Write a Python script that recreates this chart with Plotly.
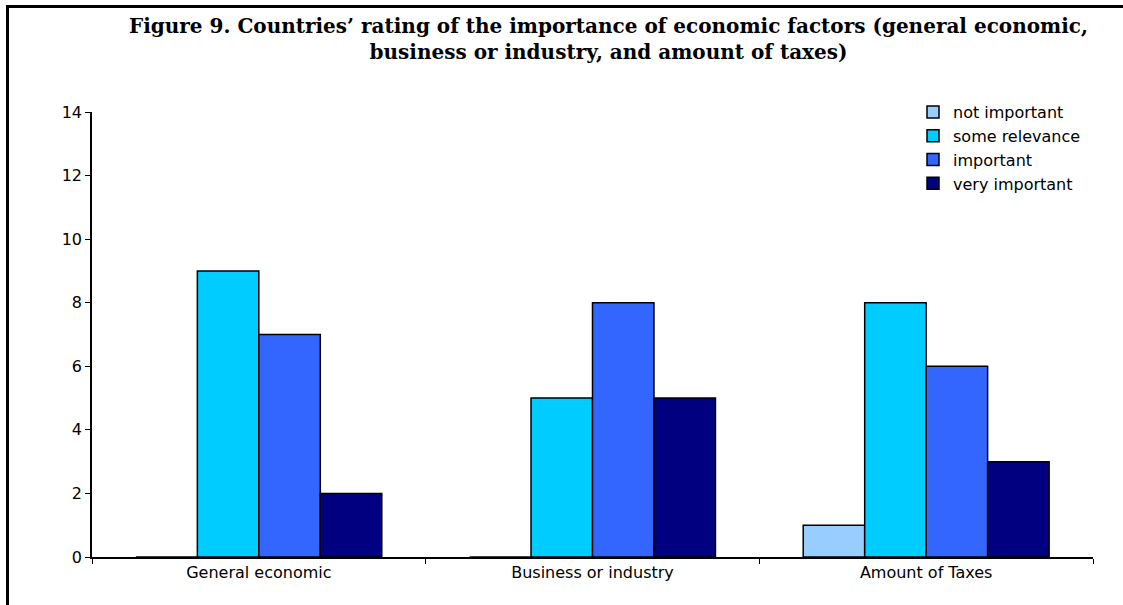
import plotly.graph_objects as go

categories = ["General economic", "Business or industry", "Amount of Taxes"]
series_names = ["not important", "some relevance", "important", "very important"]
not_important = [0, 0, 1]
some_relevance = [9, 5, 8]
important = [7, 8, 6]
very_important = [2, 5, 3]
colors = ["#99CCFF", "#00CCFF", "#3366FF", "#000080"]

values = [not_important, some_relevance, important, very_important]

fig = go.Figure()
for name, vals, col in zip(series_names, values, colors):
    fig.add_trace(go.Bar(
        x=categories, y=vals, name=name,
        marker=dict(color=col, line=dict(color="#000000", width=1.5)),
    ))

W, H = 1123, 605
l, r, t, b = 92, 30, 112, 48
pw, ph = W - l - r, H - t - b

def px_x(x):
    return (x - l) / pw

def px_y(y):
    return (H - b - y) / ph

fig.add_shape(type="path", xref="paper", yref="paper",
              path=f"M {px_x(7.5)} {px_y(605)} L {px_x(7.5)} {px_y(6.5)} L {px_x(1123)} {px_y(6.5)}",
              line=dict(color="#000000", width=3))

fig.add_annotation(
    xref="paper", yref="paper", x=px_x(608), y=px_y(12), xanchor="center", yanchor="top",
    text="Figure 9. Countries’ rating of the importance of economic factors (general economic,<br>business or industry, and amount of taxes)",
    showarrow=False, align="center",
    font=dict(family="DejaVu Serif", size=20, color="#000000", weight="bold"),
)

fig.update_layout(
    width=W, height=H,
    margin=dict(l=l, r=r, t=t, b=b, autoexpand=False),
    paper_bgcolor="white", plot_bgcolor="white",
    barmode="group", bargap=0.263, bargroupgap=0,
    font=dict(family="DejaVu Sans", size=16, color="#000000"),
    showlegend=True,
    legend=dict(x=px_x(913), y=px_y(95), xanchor="left", yanchor="top",
                font=dict(size=16), bgcolor="rgba(0,0,0,0)", tracegroupgap=0,
                itemwidth=30),
    xaxis=dict(type="category", tickson="boundaries", ticks="outside", ticklen=5,
               tickcolor="#000000", showline=True, linecolor="#000000", linewidth=1.5,
               showgrid=False, tickfont=dict(size=16)),
    yaxis=dict(range=[0, 14], dtick=2, ticks="outside", ticklen=5, tickcolor="#000000",
               showline=True, linecolor="#000000", linewidth=1.5, showgrid=False,
               zeroline=False, tickfont=dict(size=16)),
)

fig.write_html("out.html")
